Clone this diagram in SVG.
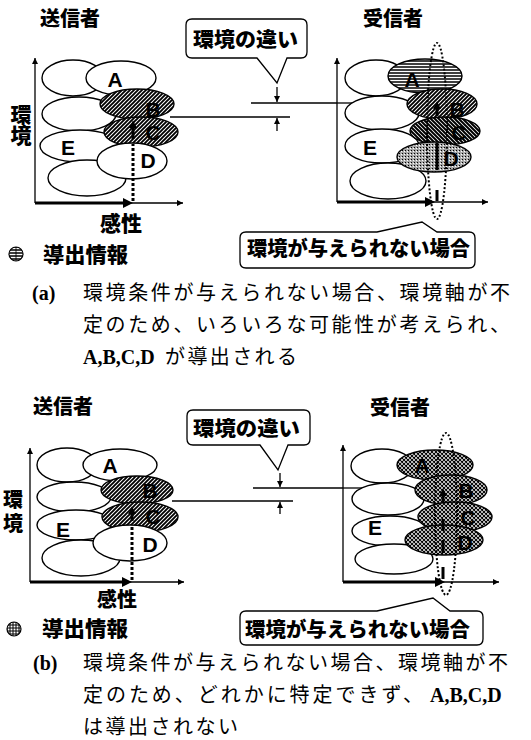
<svg xmlns="http://www.w3.org/2000/svg" width="531" height="740" viewBox="0 0 531 740">
<defs>
<pattern id="hf" width="4" height="4" patternUnits="userSpaceOnUse"><rect width="4" height="4" fill="#fff"/><path d="M-1,1 L1,-1 M0,4 L4,0 M3,5 L5,3" stroke="#000" stroke-width="1.9"/></pattern>
<pattern id="hb" width="4" height="4" patternUnits="userSpaceOnUse"><rect width="4" height="4" fill="#fff"/><path d="M-1,3 L1,5 M0,0 L4,4 M3,-1 L5,1" stroke="#000" stroke-width="2"/></pattern>
<pattern id="hl" width="4" height="3" patternUnits="userSpaceOnUse"><rect width="4" height="3" fill="#fff"/><path d="M0,1 H4" stroke="#000" stroke-width="1.5"/></pattern>
<pattern id="dt" width="3" height="3" patternUnits="userSpaceOnUse"><rect width="3" height="3" fill="#a8a8a8"/><rect x="0" y="0" width="1" height="1" fill="#000"/><rect x="2" y="1" width="1" height="1" fill="#fff"/></pattern>
<pattern id="cr" width="4" height="4" patternUnits="userSpaceOnUse"><rect width="4" height="4" fill="#fff"/><path d="M-1,1 L1,-1 M0,4 L4,0 M3,5 L5,3 M-1,3 L1,5 M0,0 L4,4 M3,-1 L5,1" stroke="#000" stroke-width="1.1"/></pattern>
<pattern id="gr" width="3" height="3" patternUnits="userSpaceOnUse"><rect width="3" height="3" fill="#fff"/><path d="M0,1 H3 M1,0 V3" stroke="#000" stroke-width="1"/></pattern>
<marker id="arr" viewBox="0 0 10 10" refX="10" refY="5" markerWidth="6" markerHeight="6" markerUnits="userSpaceOnUse" orient="auto"><path d="M0,0 L10,5 L0,10 z" fill="#000"/></marker>
<marker id="arrM" viewBox="0 0 10 10" refX="4" refY="5" markerWidth="8" markerHeight="8" markerUnits="userSpaceOnUse" orient="auto"><path d="M0,0 L10,5 L0,10 z" fill="#000"/></marker>
<marker id="arrT" viewBox="0 0 10 10" refX="2" refY="5" markerWidth="10" markerHeight="10" markerUnits="userSpaceOnUse" orient="auto"><path d="M0,0 L10,5 L0,10 z" fill="#000"/></marker>
</defs>
<style>
.el{stroke:#000;stroke-width:1.4}
.w{fill:#fff}
.ax{stroke:#000;stroke-width:1.3;fill:none}
.thick{stroke:#000;stroke-width:3.2;fill:none}
.ln{stroke:#000;stroke-width:1.3;fill:none}
.dot{stroke:#000;stroke-width:2;stroke-dasharray:2,2;fill:none}
.dotT{stroke:#000;stroke-width:3;stroke-dasharray:3,2;fill:none}
.bar{stroke:#000;stroke-width:3;fill:none}
.co{fill:#fff;stroke:#000;stroke-width:1.3}
.jb{font-family:"Noto Sans CJK JP",sans-serif;font-weight:900;fill:#000}
.vt{writing-mode:vertical-rl;text-orientation:upright}
.jr{font-family:"Noto Sans CJK JP",sans-serif;font-weight:400;fill:#000;font-size:20px}
.lt{font-family:"Liberation Sans",Arial,sans-serif;font-weight:700;font-size:21px;fill:#000;text-anchor:middle}
.sr{font-family:"Liberation Serif","Times New Roman",serif;font-weight:700;font-size:20px;fill:#000}
</style>

<!-- ===== (a) ===== -->
<g id="a-sender">
<text class="jb" x="40" y="26" font-size="20">送信者</text>
<text class="jb vt" x="21" y="104" font-size="21">環境</text>
<text class="jb" x="100" y="231" font-size="21">感性</text>
<ellipse class="el w" cx="73" cy="78" rx="31" ry="18"/>
<ellipse class="el w" cx="121" cy="78" rx="35" ry="17"/>
<ellipse class="el w" cx="79" cy="114" rx="37" ry="17"/>
<ellipse class="el" fill="url(#hf)" cx="137" cy="104" rx="37" ry="15"/>
<ellipse class="el w" cx="80" cy="146" rx="40" ry="16"/>
<ellipse class="el" fill="url(#hf)" cx="141" cy="132" rx="37" ry="15"/>
<ellipse class="el w" cx="87" cy="178" rx="39" ry="18"/>
<ellipse class="el w" cx="132" cy="161" rx="35" ry="18"/>
<text class="lt" x="115" y="87">A</text>
<text class="lt" x="153" y="117">B</text>
<text class="lt" x="153" y="140">C</text>
<text class="lt" x="148" y="168">D</text>
<text class="lt" x="68" y="155">E</text>
<line class="ax" x1="35" y1="203" x2="35" y2="58" marker-end="url(#arr)"/>
<line class="ax" x1="35" y1="203" x2="183" y2="203" marker-end="url(#arr)"/>
<line class="thick" x1="35" y1="203" x2="125" y2="203" marker-end="url(#arrT)"/>
<line class="dotT" x1="133" y1="201" x2="133" y2="144"/>
<line class="bar" x1="133" y1="139" x2="133" y2="125" marker-end="url(#arrM)"/>
</g>

<g id="a-receiver">
<text class="jb" x="363" y="26" font-size="20">受信者</text>
<ellipse class="el w" cx="376" cy="78" rx="31" ry="18"/>
<line class="ln" x1="337" y1="103" x2="360" y2="103"/>
<ellipse class="el" fill="url(#hl)" cx="425" cy="76" rx="37" ry="17"/>
<ellipse class="el w" cx="382" cy="113" rx="37" ry="17"/>
<ellipse class="el" fill="url(#hf)" cx="442" cy="104" rx="35" ry="15"/>
<ellipse class="el w" cx="382" cy="146" rx="37" ry="17"/>
<ellipse class="el" fill="url(#hb)" cx="445" cy="131" rx="35" ry="14"/>
<ellipse class="el w" cx="388" cy="181" rx="38" ry="18"/>
<ellipse class="el" fill="url(#dt)" cx="434" cy="157" rx="37" ry="15"/>
<text class="lt" x="412" y="87">A</text>
<text class="lt" x="457" y="117">B</text>
<text class="lt" x="459" y="140">C</text>
<text class="lt" x="451" y="166">D</text>
<text class="lt" x="370" y="155">E</text>
<line class="ax" x1="337" y1="202" x2="337" y2="58" marker-end="url(#arr)"/>
<line class="ax" x1="337" y1="202" x2="488" y2="202" marker-end="url(#arr)"/>
<line class="thick" x1="337" y1="202" x2="427" y2="202" marker-end="url(#arrT)"/>
<line class="bar" x1="437" y1="116" x2="437" y2="106" marker-end="url(#arrM)"/>
<line class="bar" x1="437" y1="143" x2="437" y2="170"/>
<line class="bar" x1="437" y1="190" x2="437" y2="201"/>
<ellipse class="dot" cx="437" cy="131" rx="10" ry="88"/>
</g>

<g id="a-callout-diff">
<path class="co" d="M192,19 H301 Q307,19 307,25 V52 Q307,58 301,58 H287 L277,83 L257,58 H192 Q186,58 186,52 V25 Q186,19 192,19 Z"/>
<text class="jb" x="193" y="47" font-size="20" textLength="105" lengthAdjust="spacingAndGlyphs">環境の違い</text>
</g>

<g id="a-callout-env">
<path class="co" d="M246,232 H377 L422,222 L437,232 H469 Q475,232 475,238 V262 Q475,268 469,268 H246 Q240,268 240,262 V238 Q240,232 246,232 Z"/>
<text class="jb" x="247" y="256" font-size="20" textLength="223" lengthAdjust="spacingAndGlyphs">環境が与えられない場合</text>
</g>

<g id="a-legend">
<circle cx="16" cy="254" r="7" fill="url(#hl)" stroke="#000" stroke-width="1.2"/>
<line x1="16" y1="247" x2="16" y2="261" stroke="#000" stroke-width="0.8"/>
<text class="jb" x="43" y="262" font-size="21" textLength="85" lengthAdjust="spacingAndGlyphs">導出情報</text>
</g>

<g id="a-caption">
<text class="sr" x="32" y="300">(a)</text>
<text class="jr" x="83" y="300" textLength="427" lengthAdjust="spacing">環境条件が与えられない場合、環境軸が不</text>
<text class="jr" x="83" y="332" textLength="427" lengthAdjust="spacing">定のため、いろいろな可能性が考えられ、</text>
<text class="sr" x="83" y="364">A,B,C,D</text>
<text class="jr" x="165" y="364" textLength="132" lengthAdjust="spacing">が導出される</text>
</g>

<!-- ===== (b) ===== -->
<g id="b-sender">
<text class="jb" x="33" y="414" font-size="20">送信者</text>
<text class="jb vt" x="13" y="489" font-size="20" letter-spacing="4">環境</text>
<text class="jb" x="97" y="607" font-size="20">感性</text>
<ellipse class="el w" cx="67" cy="465" rx="30" ry="17"/>
<ellipse class="el w" cx="120" cy="465" rx="37" ry="16"/>
<ellipse class="el w" cx="74" cy="497" rx="37" ry="15"/>
<ellipse class="el" fill="url(#hf)" cx="137" cy="490" rx="36" ry="14"/>
<ellipse class="el w" cx="76" cy="525" rx="39" ry="15"/>
<ellipse class="el" fill="url(#hf)" cx="140" cy="517" rx="38" ry="15"/>
<ellipse class="el w" cx="81" cy="558" rx="39" ry="18"/>
<ellipse class="el w" cx="130" cy="543" rx="37" ry="18"/>
<text class="lt" x="110" y="473">A</text>
<text class="lt" x="150" y="498">B</text>
<text class="lt" x="153" y="524">C</text>
<text class="lt" x="150" y="552">D</text>
<text class="lt" x="63" y="537">E</text>
<line class="ax" x1="30" y1="582" x2="30" y2="448" marker-end="url(#arr)"/>
<line class="ax" x1="30" y1="582" x2="184" y2="582" marker-end="url(#arr)"/>
<line class="thick" x1="30" y1="582" x2="124" y2="582" marker-end="url(#arrT)"/>
<line class="dotT" x1="132" y1="580" x2="132" y2="526"/>
<line class="bar" x1="132" y1="521" x2="132" y2="511" marker-end="url(#arrM)"/>
</g>

<g id="b-receiver">
<text class="jb" x="370" y="415" font-size="20">受信者</text>
<ellipse class="el w" cx="382" cy="466" rx="31" ry="17"/>
<line class="ln" x1="343" y1="488" x2="366" y2="488"/>
<ellipse class="el" fill="url(#cr)" cx="435" cy="465" rx="38" ry="15"/>
<ellipse class="el w" cx="388" cy="499" rx="36" ry="16"/>
<ellipse class="el" fill="url(#cr)" cx="451" cy="490" rx="36" ry="15"/>
<ellipse class="el w" cx="390" cy="531" rx="38" ry="15"/>
<ellipse class="el" fill="url(#cr)" cx="455" cy="517" rx="37" ry="15"/>
<ellipse class="el w" cx="394" cy="559" rx="39" ry="15"/>
<ellipse class="el" fill="url(#cr)" cx="444" cy="540" rx="39" ry="15"/>
<text class="lt" x="422" y="473">A</text>
<text class="lt" x="466" y="498">B</text>
<text class="lt" x="468" y="525">C</text>
<text class="lt" x="465" y="550">D</text>
<text class="lt" x="375" y="535">E</text>
<line class="ax" x1="343" y1="582" x2="343" y2="445" marker-end="url(#arr)"/>
<line class="ax" x1="343" y1="582" x2="499" y2="582" marker-end="url(#arr)"/>
<line class="thick" x1="343" y1="582" x2="437" y2="582" marker-end="url(#arrT)"/>
<line class="bar" x1="443" y1="503" x2="443" y2="493" marker-end="url(#arrM)"/>
<line class="bar" x1="443" y1="519" x2="443" y2="531"/>
<line class="bar" x1="443" y1="540" x2="443" y2="553"/>
<line class="bar" x1="443" y1="567" x2="443" y2="579"/>
<ellipse class="dot" cx="446" cy="514" rx="11" ry="81"/>
</g>

<g id="b-callout-diff">
<path class="co" d="M193,410 H304 Q310,410 310,416 V439 Q310,445 304,445 H288 L278,470 L260,445 H193 Q187,445 187,439 V416 Q187,410 193,410 Z"/>
<text class="jb" x="193" y="436" font-size="20" textLength="107" lengthAdjust="spacingAndGlyphs">環境の違い</text>
</g>

<g id="b-callout-env">
<path class="co" d="M246,611 H377 L433,598 L450,611 H477 Q483,611 483,617 V639 Q483,645 477,645 H246 Q240,645 240,639 V617 Q240,611 246,611 Z"/>
<text class="jb" x="245" y="637" font-size="20" textLength="225" lengthAdjust="spacingAndGlyphs">環境が与えられない場合</text>
</g>

<g id="b-legend">
<circle cx="14" cy="629" r="7" fill="url(#gr)" stroke="#000" stroke-width="1.2"/>
<text class="jb" x="42" y="636" font-size="21" textLength="86" lengthAdjust="spacingAndGlyphs">導出情報</text>
</g>

<g id="b-caption">
<text class="sr" x="33" y="670">(b)</text>
<text class="jr" x="83" y="670" textLength="425" lengthAdjust="spacing">環境条件が与えられない場合、環境軸が不</text>
<text class="jr" x="83" y="702" textLength="340" lengthAdjust="spacing">定のため、どれかに特定できず、</text>
<text class="sr" x="430" y="702">A,B,C,D</text>
<text class="jr" x="83" y="734" textLength="155" lengthAdjust="spacing">は導出されない</text>
</g>

<g id="connectors">
<line class="ln" x1="170" y1="117" x2="290" y2="117"/>
<line class="ln" x1="251" y1="103" x2="337" y2="103"/>
<line class="ln" x1="277" y1="87" x2="277" y2="102" marker-end="url(#arr)"/>
<line class="ln" x1="277" y1="131" x2="277" y2="118" marker-end="url(#arr)"/>
<line class="ln" x1="172" y1="501" x2="293" y2="501"/>
<line class="ln" x1="253" y1="488" x2="343" y2="488"/>
<line class="ln" x1="280" y1="473" x2="280" y2="487" marker-end="url(#arr)"/>
<line class="ln" x1="280" y1="514" x2="280" y2="502" marker-end="url(#arr)"/>
</g>
</svg>
